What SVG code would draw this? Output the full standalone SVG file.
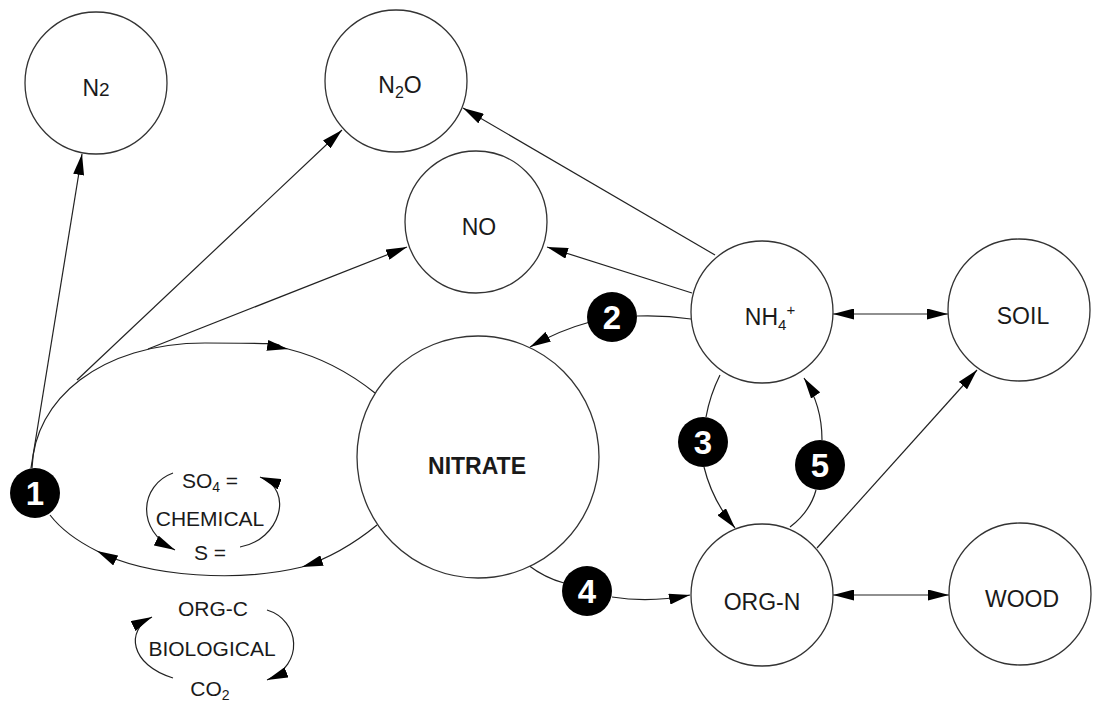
<svg xmlns="http://www.w3.org/2000/svg" width="1093" height="702" viewBox="0 0 1093 702">
<defs>
<style>
.node circle{fill:#fff;stroke:#333;stroke-width:1.3}
.lbl{font-family:"Liberation Sans",Arial,sans-serif;font-size:23px;fill:#1a1a1a;text-anchor:middle}
.cyc{font-family:"Liberation Sans",Arial,sans-serif;font-size:21px;fill:#1a1a1a;text-anchor:middle}
.num circle{fill:#000;stroke:none}
.num text{font-family:"Liberation Sans",Arial,sans-serif;font-size:33px;font-weight:bold;fill:#fff;text-anchor:middle}
.c{fill:none;stroke:#222;stroke-width:1.2}
.a{marker-end:url(#ah)}
.b{marker-start:url(#ah);marker-end:url(#ah)}
</style>
<marker id="ah" viewBox="0 0 21 11" refX="21" refY="5.5" markerWidth="21" markerHeight="11" markerUnits="userSpaceOnUse" orient="auto-start-reverse">
<path d="M0,0 L21,5.5 L0,11 z" fill="#000"/>
</marker>
</defs>
<rect width="1093" height="702" fill="#fff"/>

<g id="connectors">
<!-- from node 1 -->
<path class="c a" d="M31,468 L82,154"/>
<path class="c a" d="M77,380 L342,130"/>
<path class="c a" d="M148,349 L407,247"/>
<path class="c a" d="M32,468 C34,400 100,343 205,343 S265,345 288,349"/>
<path class="c" d="M288,349 C320,357 350,373 375,393"/>
<path class="c a" d="M377,525 C355,543 330,558 302,567"/>
<path class="c a" d="M302,567 C240,582 150,578 97,551"/>
<path class="c" d="M97,551 C75,540 60,528 50,515"/>
<!-- chemical cycle -->
<path class="c a" d="M173,473 C140,485 135,530 175,550"/>
<path class="c a" d="M240,547 C280,540 295,490 260,477"/>
<!-- biological cycle -->
<path class="c a" d="M173,678 C130,665 125,630 152,617"/>
<path class="c a" d="M267,610 C300,620 305,665 267,680"/>
<!-- NH4 outputs -->
<path class="c a" d="M715,255 L463,108"/>
<path class="c a" d="M692,293 L547,247"/>
<!-- node 2 -->
<path class="c" d="M691,319 Q664,315 637,316"/>
<path class="c a" d="M590,322 Q560,330 530,347"/>
<!-- node 3 -->
<path class="c" d="M720,375 Q710,395 706,417"/>
<path class="c a" d="M704,467 Q712,500 735,528"/>
<!-- node 5 -->
<path class="c" d="M790,527 Q810,512 816,490"/>
<path class="c a" d="M822,440 Q822,405 804,378"/>
<!-- node 4 -->
<path class="c" d="M528,565 Q545,578 564,583"/>
<path class="c a" d="M612,597 Q650,603 690,595"/>
<!-- right side -->
<path class="c b" d="M833,314 L948,314"/>
<path class="c b" d="M833,595 L949,595"/>
<path class="c a" d="M817,548 L977,370"/>
</g>

<g id="n2" class="node"><circle cx="96" cy="83" r="71"/><text class="lbl" x="96" y="96">N<tspan font-size="19">2</tspan></text></g>
<g id="n2o" class="node"><circle cx="396" cy="81" r="71"/><text class="lbl" x="400" y="93">N<tspan font-size="16" dy="5">2</tspan><tspan dy="-5">O</tspan></text></g>
<g id="no" class="node"><circle cx="476" cy="222" r="71"/><text class="lbl" x="479" y="235">NO</text></g>
<g id="nh4" class="node"><circle cx="762" cy="312" r="71"/><text class="lbl" x="770" y="325">NH<tspan font-size="15" dy="5">4</tspan><tspan font-size="15" dy="-15">+</tspan></text></g>
<g id="soil" class="node"><circle cx="1019" cy="310" r="71"/><text class="lbl" x="1023" y="324">SOIL</text></g>
<g id="nitrate" class="node"><circle cx="478" cy="457" r="121"/><text class="lbl" x="477" y="474" font-weight="bold">NITRATE</text></g>
<g id="orgn" class="node"><circle cx="762" cy="595" r="71"/><text class="lbl" x="762" y="610">ORG-N</text></g>
<g id="wood" class="node"><circle cx="1020" cy="594" r="71"/><text class="lbl" x="1022" y="607">WOOD</text></g>

<g id="num1" class="num"><circle cx="35" cy="493" r="25"/><text x="35" y="505">1</text></g>
<g id="num2" class="num"><circle cx="612" cy="317" r="25"/><text x="612" y="329">2</text></g>
<g id="num3" class="num"><circle cx="703" cy="442" r="25"/><text x="703" y="454">3</text></g>
<g id="num4" class="num"><circle cx="587" cy="591" r="25"/><text x="587" y="603">4</text></g>
<g id="num5" class="num"><circle cx="820" cy="465" r="25"/><text x="820" y="477">5</text></g>

<g id="chemical">
<text class="cyc" x="210" y="488">SO<tspan font-size="14" dy="4">4</tspan><tspan dy="-4"> =</tspan></text>
<text class="cyc" x="210" y="526">CHEMICAL</text>
<text class="cyc" x="210" y="560">S =</text>
</g>
<g id="biological">
<text class="cyc" x="213" y="616">ORG-C</text>
<text class="cyc" x="212" y="656">BIOLOGICAL</text>
<text class="cyc" x="210" y="696">CO<tspan font-size="14" dy="4">2</tspan></text>
</g>
</svg>
